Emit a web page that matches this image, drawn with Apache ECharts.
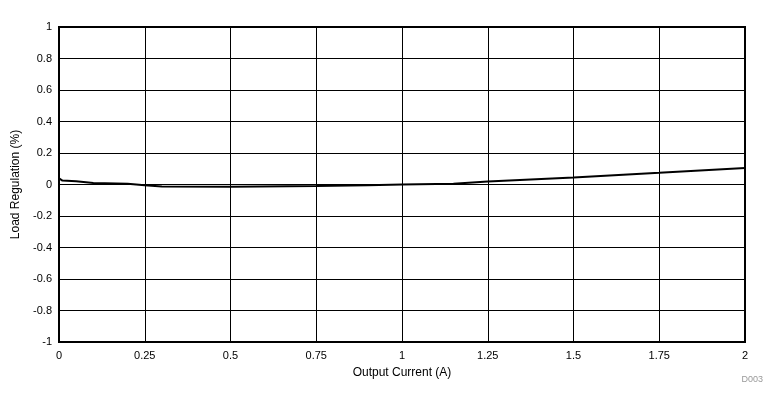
<!DOCTYPE html>
<html><head><meta charset="utf-8">
<script src="https://cdn.jsdelivr.net/npm/echarts@6/dist/echarts.min.js"></script>
<style>html,body{margin:0;padding:0;background:#fff}#c{width:779px;height:405px}</style>
</head><body><div id="c"></div>
<script>
const currentA = [0, 0.01, 0.05, 0.1, 0.2, 0.25, 0.3, 0.5, 0.75, 0.9, 1.0, 1.15, 1.25, 1.5, 1.75, 2.0];
const loadReg = [0.04, 0.025, 0.02, 0.01, 0.005, -0.005, -0.012, -0.014, -0.01, -0.005, 0.0, 0.005, 0.019, 0.045, 0.074, 0.104];
const xTicks = ['0','0.25','0.5','0.75','1','1.25','1.5','1.75','2'];
const chart = echarts.init(document.getElementById('c'));
const font = 'Arial, "Liberation Sans", sans-serif';
chart.setOption({
  animation: false,
  grid: {left: 59, right: 34, top: 27, bottom: 63, show: true, borderColor: '#000', borderWidth: 2},
  xAxis: {
    type: 'value', min: 0, max: 2, interval: 0.25,
    name: 'Output Current (A)', nameLocation: 'middle', nameGap: 25,
    nameTextStyle: {color: '#000', fontSize: 12, fontFamily: font},
    axisLine: {show: false}, axisTick: {show: false},
    axisLabel: {color: '#000', fontSize: 11, fontFamily: font, margin: 8,
      formatter: v => xTicks[Math.round(v / 0.25)]},
    splitLine: {show: true, lineStyle: {color: '#000', width: 1}}
  },
  yAxis: {
    type: 'value', min: -1, max: 1, interval: 0.2,
    name: 'Load Regulation (%)', nameLocation: 'middle', nameGap: 37,
    nameTextStyle: {color: '#000', fontSize: 12, fontFamily: font},
    axisLine: {show: false}, axisTick: {show: false},
    axisLabel: {color: '#000', fontSize: 11, fontFamily: font, margin: 7,
      formatter: v => String(Math.round(v * 10) / 10)},
    splitLine: {show: true, lineStyle: {color: '#000', width: 1}}
  },
  graphic: [{type: 'text', right: 16, top: 375, style: {text: 'D003', fill: '#999', fontSize: 9, fontFamily: font}}],
  series: [{
    type: 'line', data: currentA.map((x, i) => [x, loadReg[i]]),
    showSymbol: false, lineStyle: {color: '#000', width: 2}
  }]
});
</script></body></html>
